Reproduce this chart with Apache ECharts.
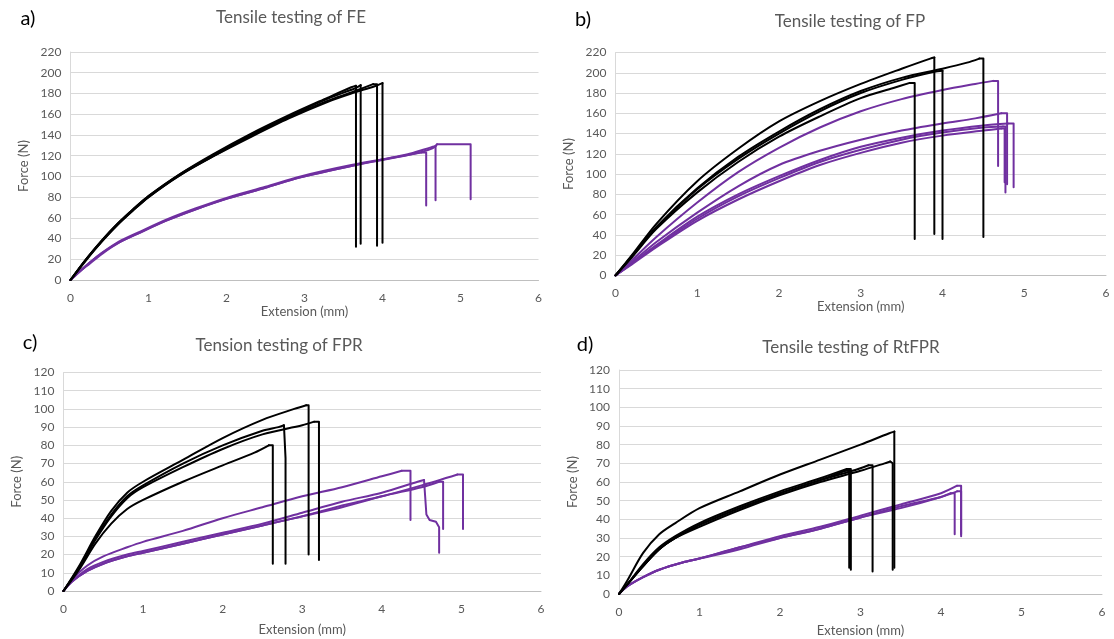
<!DOCTYPE html>
<html>
<head>
<meta charset="utf-8">
<script src="https://cdn.jsdelivr.net/npm/echarts@6/dist/echarts.min.js"></script>
<style>
  html, body { margin: 0; padding: 0; background: #fff; }
  #chart { width: 1114px; height: 639px; }
</style>
</head>
<body>
<div id="chart"></div>
<script>
// Axis ticks
const extensionTicks = [0, 1, 2, 3, 4, 5, 6];
const forceMaxTop = 220, forceStepTop = 20;
const forceMaxBottom = 120, forceStepBottom = 10;

// Panel titles
const panelLetters = ['a)', 'b)', 'c)', 'd)'];
const panelTitles = ['Tensile testing of FE', 'Tensile testing of FP', 'Tension testing of FPR', 'Tensile testing of RtFPR'];

// Force (N) vs extension (mm) curves, [extension, force]
// a) FE
const feBlack = [
  [[0,0],[0.2,20],[0.4,38],[0.6,54],[0.8,68],[1.0,81],[1.4,102],[1.82,121],[2.31,141],[2.8,159],[3.3,176],[3.6,186],[3.66,187.5],[3.66,32]],
  [[0,0],[0.2,20],[0.4,38],[0.6,54],[0.8,68],[1.0,81],[1.4,102],[1.82,120],[2.31,140],[2.8,158],[3.3,175],[3.65,185],[3.72,188],[3.72,35]],
  [[0,0],[0.2,20],[0.4,37],[0.6,53],[0.8,67],[1.0,80],[1.4,101],[1.82,119],[2.31,139],[2.8,157],[3.3,173],[3.6,181],[3.88,189],[3.93,189],[3.93,33]],
  [[0,0],[0.2,19],[0.4,37],[0.6,53],[0.8,67],[1.0,80],[1.4,101],[1.82,119],[2.31,138],[2.8,156],[3.3,172],[3.6,180],[3.9,187],[4.0,190],[4.0,36]]
];
const fePurple = [
  [[0,0],[0.1,7],[0.25,17],[0.4,26],[0.62,37],[0.9,47],[1.22,58],[1.6,69],[2.03,80],[2.5,90],[2.95,100],[3.6,111],[4.2,119],[4.5,123],[4.56,123],[4.56,72]],
  [[0,0],[0.1,7],[0.25,17],[0.4,26],[0.62,36],[0.9,46],[1.22,57],[1.6,68],[2.03,79],[2.5,89],[2.95,99],[3.6,110],[4.36,122],[4.62,128],[4.68,129],[4.68,77]],
  [[0,0],[0.1,7],[0.25,16],[0.4,25],[0.62,36],[0.9,46],[1.22,57],[1.6,68],[2.03,79],[2.5,89],[2.95,99],[3.6,110],[4.36,121],[4.64,127],[4.7,131],[5.13,131],[5.13,78]]
];
// b) FP
const fpBlack = [
  [[0,0],[0.2,20],[0.5,51],[1.0,93],[1.5,125],[2.0,152],[2.5,172],[3.0,189],[3.5,204],[3.85,214],[3.9,215],[3.9,41]],
  [[0,0],[0.2,19],[0.5,48],[1.0,86],[1.5,117],[2.0,142],[2.5,164],[3.0,182],[3.5,195],[4.0,204],[4.3,210],[4.45,214],[4.5,214],[4.5,38]],
  [[0,0],[0.2,19],[0.5,47],[1.0,85],[1.5,115],[2.0,140],[2.5,162],[3.0,180],[3.5,193],[3.9,201],[4.0,202],[4.0,36]],
  [[0,0],[0.2,18],[0.5,46],[1.0,82],[1.5,112],[2.0,137],[2.5,157],[3.0,175],[3.4,185],[3.6,190],[3.66,190],[3.66,36]]
];
const fpPurple = [
  [[0,0],[0.2,15],[0.5,38],[1.0,72],[1.5,102],[2.0,126],[2.5,146],[3.0,162],[3.5,174],[4.0,183],[4.4,189],[4.62,192],[4.68,192],[4.68,108]],
  [[0,0],[0.2,13],[0.5,33],[1.0,62],[1.5,88],[2.0,109],[2.5,123],[3.0,134],[3.5,143],[4.0,150],[4.4,155],[4.72,160],[4.79,160],[4.79,90]],
  [[0,0],[0.2,12],[0.5,30],[1.0,58],[1.5,80],[2.0,98],[2.5,114],[3.0,127],[3.5,136],[4.0,143],[4.5,148],[4.8,150],[4.87,150],[4.87,87]],
  [[0,0],[0.2,12],[0.5,29],[1.0,56],[1.5,78],[2.0,96],[2.5,112],[3.0,124],[3.5,134],[4.0,141],[4.5,146],[4.74,147],[4.77,147],[4.77,82]],
  [[0,0],[0.2,11],[0.5,28],[1.0,54],[1.5,75],[2.0,93],[2.5,109],[3.0,121],[3.5,131],[4.0,138],[4.5,143],[4.72,145],[4.76,145],[4.76,92]]
];
// c) FPR
const fprBlack = [
  [[0,0],[0.2,14],[0.4,30],[0.6,44],[0.8,54],[1.0,60],[1.5,72],[2.0,84],[2.5,94],[2.9,100],[3.05,102],[3.08,102],[3.08,20]],
  [[0,0],[0.2,13],[0.4,28],[0.6,41],[0.8,51],[1.0,57],[1.5,68],[2.0,78],[2.5,86],[3.0,91],[3.15,93],[3.21,93],[3.21,17]],
  [[0,0],[0.2,13],[0.4,29],[0.6,42],[0.8,52],[1.0,58],[1.5,70],[2.0,80],[2.5,88],[2.7,90],[2.77,91],[2.79,73],[2.79,15]],
  [[0,0],[0.2,12],[0.4,26],[0.6,37],[0.8,45],[1.0,50],[1.5,60],[2.0,69],[2.4,76],[2.58,80],[2.63,80],[2.63,15]]
];
const fprPurple = [
  [[0,0],[0.1,6],[0.3,14],[0.5,19],[0.8,24],[1.0,27],[1.5,33],[2.0,40],[2.5,46],[3.0,52],[3.5,57],[4.0,63],[4.25,66],[4.36,66],[4.36,39]],
  [[0,0],[0.1,5],[0.3,11],[0.5,15],[0.8,19],[1.0,21],[1.5,26],[2.0,31],[2.5,36],[3.0,41],[3.5,47],[4.0,52],[4.5,58],[4.95,64],[5.02,64],[5.02,34]],
  [[0,0],[0.1,5],[0.3,12],[0.5,16],[0.8,20],[1.0,22],[1.5,27],[2.0,32],[2.5,37],[3.0,43],[3.5,49],[4.0,54],[4.45,60],[4.53,61],[4.56,42],[4.6,39],[4.68,38],[4.72,35],[4.72,21]],
  [[0,0],[0.1,5],[0.3,11],[0.5,15],[0.8,19],[1.0,21],[1.5,26],[2.0,31],[2.5,36],[3.0,41],[3.5,46],[4.0,52],[4.5,57],[4.72,60],[4.77,60],[4.77,34]]
];
// d) RtFPR
const rtfprBlack = [
  [[0,0],[0.1,7],[0.3,22],[0.5,32],[0.7,38],[1.0,46],[1.5,55],[2.0,64],[2.5,72],[3.0,80],[3.35,86],[3.42,87],[3.42,14]],
  [[0,0],[0.1,5],[0.3,15],[0.5,24],[0.7,30],[1.0,36],[1.5,45],[2.0,53],[2.5,60],[3.0,66],[3.3,70],[3.37,71],[3.4,70],[3.4,13]],
  [[0,0],[0.1,5],[0.3,15],[0.5,24],[0.7,30],[1.0,37],[1.5,46],[2.0,54],[2.5,61],[2.9,66],[3.1,69],[3.15,69],[3.15,12]],
  [[0,0],[0.1,5],[0.3,16],[0.5,25],[0.7,31],[1.0,38],[1.5,47],[2.0,55],[2.5,62],[2.83,67],[2.88,67],[2.88,13]],
  [[0,0],[0.1,5],[0.3,15],[0.5,24],[0.7,30],[1.0,37],[1.5,46],[2.0,54],[2.5,61],[2.81,66],[2.86,66],[2.86,14]]
];
const rtfprPurple = [
  [[0,0],[0.1,4],[0.3,9],[0.5,13],[0.8,17],[1.0,19],[1.5,25],[2.0,31],[2.5,36],[3.0,42],[3.5,48],[4.0,54],[4.2,58],[4.25,58],[4.25,32]],
  [[0,0],[0.1,4],[0.3,9],[0.5,13],[0.8,17],[1.0,19],[1.5,25],[2.0,30],[2.5,35],[3.0,41],[3.5,47],[4.0,52],[4.2,55],[4.25,55],[4.25,31]],
  [[0,0],[0.1,4],[0.3,9],[0.5,13],[0.8,17],[1.0,19],[1.5,24],[2.0,30],[2.5,35],[3.0,41],[3.5,46],[4.0,52],[4.12,54],[4.17,54],[4.17,32]]
];

const BLACK = '#000000';
const PURPLE = '#7030A0';
const GREY = '#595959';
const GRID_LINE = '#d9d9d9';
const FONT = 'Lato, "Open Sans", sans-serif';

// Plot areas of the four panels
const grids = [
  { left: 70.5, top: 52, width: 468, height: 228 },
  { left: 615.5, top: 52.5, width: 490.5, height: 223 },
  { left: 63.5, top: 372.5, width: 477.5, height: 218.5 },
  { left: 619, top: 370, width: 483, height: 224 }
];
const yMax = [forceMaxTop, forceMaxTop, forceMaxBottom, forceMaxBottom];
const yStep = [forceStepTop, forceStepTop, forceStepBottom, forceStepBottom];
const xNameGap = [23, 25, 32, 30];

const xAxes = grids.map((g, i) => ({
  type: 'value', gridIndex: i,
  min: extensionTicks[0], max: extensionTicks[extensionTicks.length - 1], interval: 1,
  name: 'Extension (mm)', nameLocation: 'middle', nameGap: xNameGap[i],
  nameTextStyle: { color: GREY, fontSize: 13, fontFamily: FONT, verticalAlign: 'top' },
  axisLine: { show: true, lineStyle: { color: '#bfbfbf', width: 1 } },
  axisTick: { show: false },
  splitLine: { show: false },
  axisLabel: { color: GREY, fontSize: 12, fontFamily: FONT, margin: 12 }
}));
const yAxes = grids.map((g, i) => ({
  type: 'value', gridIndex: i,
  min: 0, max: yMax[i], interval: yStep[i],
  name: 'Force (N)', nameLocation: 'middle', nameGap: 40, nameRotate: 90,
  nameTextStyle: { color: GREY, fontSize: 13, fontFamily: FONT },
  axisLine: { show: true, lineStyle: { color: GRID_LINE, width: 1 } },
  axisTick: { show: false },
  splitLine: { show: true, lineStyle: { color: GRID_LINE, width: 1 } },
  axisLabel: { color: GREY, fontSize: 12, fontFamily: FONT, margin: 9 }
}));

// Each curve: a smooth loading branch up to its peak force, then the
// straight break segments (short plateau and the vertical drop).
const series = [];
function addCurves(curves, color, idx) {
  curves.forEach(c => {
    let iMax = 0;
    c.forEach((p, k) => { if (p[1] > c[iMax][1]) iMax = k; });
    const common = {
      type: 'line', xAxisIndex: idx, yAxisIndex: idx,
      showSymbol: false, symbol: 'none', animation: false, silent: true,
      lineStyle: { color: color, width: 2, join: 'round', cap: 'round' }
    };
    series.push(Object.assign({}, common, { data: c.slice(0, iMax + 1), smooth: 0.3 }));
    series.push(Object.assign({}, common, { data: c.slice(iMax), smooth: false }));
  });
}
addCurves(fePurple, PURPLE, 0); addCurves(feBlack, BLACK, 0);
addCurves(fpPurple, PURPLE, 1); addCurves(fpBlack, BLACK, 1);
addCurves(fprPurple, PURPLE, 2); addCurves(fprBlack, BLACK, 2);
addCurves(rtfprPurple, PURPLE, 3); addCurves(rtfprBlack, BLACK, 3);

// Title and panel letter positions
const titlePos = [[291, 18], [850, 22], [279, 346], [851, 348]];
const letterPos = [[28, 19], [583, 20], [30, 343], [585, 345]];
const graphics = [];
titlePos.forEach((p, i) => graphics.push({
  type: 'text', x: p[0], y: p[1], silent: true,
  style: { text: panelTitles[i], fill: GREY, font: '17px ' + FONT, textAlign: 'center', textVerticalAlign: 'middle' }
}));
letterPos.forEach((p, i) => graphics.push({
  type: 'text', x: p[0], y: p[1], silent: true,
  style: { text: panelLetters[i], fill: '#000', font: '20px ' + FONT, textAlign: 'center', textVerticalAlign: 'middle' }
}));

const chart = echarts.init(document.getElementById('chart'), null, { renderer: 'canvas' });
chart.setOption({
  backgroundColor: '#ffffff',
  animation: false,
  grid: grids,
  xAxis: xAxes,
  yAxis: yAxes,
  series: series,
  graphic: graphics
});
</script>
</body>
</html>
